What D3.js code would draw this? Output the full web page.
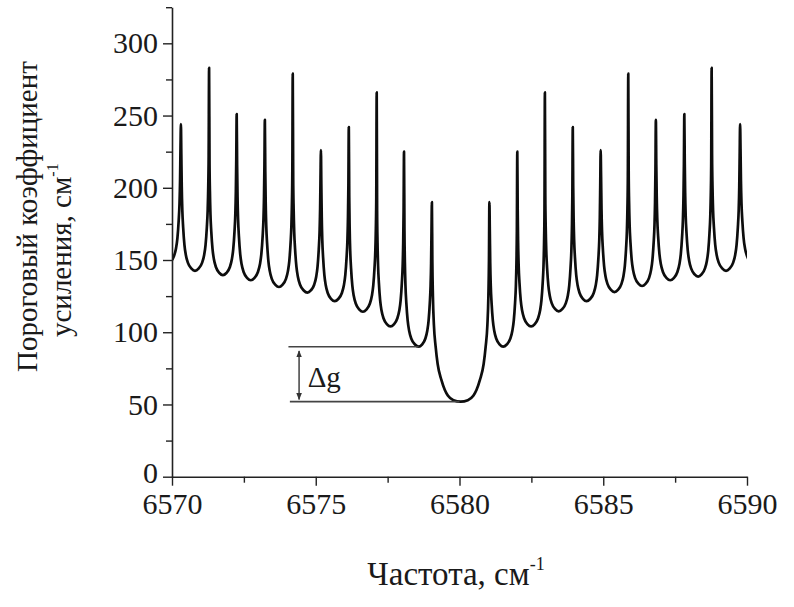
<!DOCTYPE html>
<html><head><meta charset="utf-8">
<script src="https://cdn.jsdelivr.net/npm/d3@7"></script>
<style>
html,body{margin:0;padding:0;background:#fff;}
svg{display:block;}
svg text{font-family:"Liberation Serif","DejaVu Serif","Times New Roman",serif !important;fill:#1a1a1a;}
</style></head><body>
<svg id="chart" width="794" height="607"></svg>
<script>
// ---- data ----
const peakFreq = [6570.31, 6571.29, 6572.25, 6573.23, 6574.20, 6575.18, 6576.15, 6577.12, 6578.07, 6579.04,
                  6581.04, 6582.01, 6582.97, 6583.94, 6584.91, 6585.87, 6586.83, 6587.82, 6588.77, 6589.76];
const peakGain = [244, 283, 251, 247, 279, 226, 242, 266, 225, 190,
                  190, 225, 266, 242, 226, 279, 247, 251, 283, 244];
const valleyFreq = [6569.82, 6570.80, 6571.77, 6572.74, 6573.72, 6574.71, 6575.66, 6576.64, 6577.60, 6578.58,
                    6580.04, 6581.52, 6582.49, 6583.45, 6584.42, 6585.39, 6586.35, 6587.33, 6588.30, 6589.27, 6590.25];
const valleyGain = [147, 142.5, 139.5, 136, 131.3, 127.4, 121.5, 114.2, 104, 90,
                    52, 90, 104, 114.5, 121.5, 127.8, 132, 136, 138.5, 142.5, 147];
// flank shape of an ordinary mode: fraction of half-spacing from the peak, rise above the valley
const flankU    = [0.75, 0.5, 0.35, 0.25, 0.16, 0.10, 0.06, 0.03];
const flankRise = [1.5, 5.5, 11, 18, 30, 42, 58, 80];
// central dip: distance from neighbouring peak (cm^-1) and gain
const dipDist = [0.015, 0.035, 0.07, 0.13, 0.2, 0.33, 0.45, 0.56, 0.75];
const dipGain = [150, 125, 105, 90, 78, 67, 60, 56, 53];
const dipIndex = 10;

const xTicksMajor = [6570, 6575, 6580, 6585, 6590];
const xTicksMinor = [6572.5, 6577.5, 6582.5, 6587.5];
const yTicksMajor = [0, 50, 100, 150, 200, 250, 300];
const yTicksMinor = [25, 75, 125, 175, 225, 275, 325];

const deltaLines = [{gain: 90, from: 6574.05, to: 6578.58}, {gain: 52, from: 6574.10, to: 6580.0}];
const deltaArrow = {freq: 6574.42, g1: 87, g2: 53.5};
const deltaLabel = {freq: 6574.72, gain: 62, text: "Δg"};

const yTitle1 = "Пороговый коэффициент";
const yTitle2 = "усиления, см";
const xTitle = "Частота, см";
const unitSup = "-1";

// ---- layout ----
const FONT = "'Liberation Serif','DejaVu Serif','Times New Roman',serif";
const svg = d3.select("#chart");
const L = 172, R = 747, T = 7.2, B = 476.7;
const x = d3.scaleLinear().domain([6570, 6590]).range([L, R]);
const y = d3.scaleLinear().domain([0, 325]).range([B, T]);

// build the curve points
const pts = [];
for (let i = 0; i < peakFreq.length; i++) {
  const p = peakFreq[i], pg = peakGain[i];
  const vl = i, vr = i + 1;
  pts.push([valleyFreq[vl], valleyGain[vl]]);
  if (vl === dipIndex) {
    for (let k = dipDist.length - 1; k >= 0; k--) pts.push([p - dipDist[k], dipGain[k]]);
  } else {
    for (let k = 0; k < flankU.length; k++)
      pts.push([p - flankU[k] * (p - valleyFreq[vl]), valleyGain[vl] + flankRise[k]]);
  }
  pts.push([p, pg]);
  if (vr === dipIndex) {
    for (let k = 0; k < dipDist.length; k++) pts.push([p + dipDist[k], dipGain[k]]);
  } else {
    for (let k = flankU.length - 1; k >= 0; k--)
      pts.push([p + flankU[k] * (valleyFreq[vr] - p), valleyGain[vr] + flankRise[k]]);
  }
}
pts.push([valleyFreq[valleyFreq.length - 1], valleyGain[valleyGain.length - 1]]);

svg.append("rect").attr("width", 794).attr("height", 607).attr("fill", "#fff");

svg.append("clipPath").attr("id", "clip").append("rect")
  .attr("x", L).attr("y", 0).attr("width", R - L).attr("height", B);

const line = d3.line().x(d => x(d[0])).y(d => y(d[1])).curve(d3.curveMonotoneX);
svg.append("path").datum(pts)
  .attr("clip-path", "url(#clip)")
  .attr("d", line)
  .attr("fill", "none").attr("stroke", "#0d0d0d").attr("stroke-width", 2.7)
  .attr("stroke-linejoin", "round");

// axes
function styleAxis(g) {
  g.attr("font-family", FONT);
  g.selectAll("path.domain").attr("stroke", "#222").attr("stroke-width", 1.6);
  g.selectAll(".tick line").attr("stroke", "#222").attr("stroke-width", 1.4);
  g.selectAll(".tick text").attr("font-size", 30).attr("font-family", FONT).attr("fill", "#1a1a1a");
}
const gxMinor = svg.append("g").attr("transform", `translate(0,${B})`)
  .call(d3.axisBottom(x).tickValues(xTicksMinor).tickSize(6).tickSizeOuter(0).tickFormat(""));
const gx = svg.append("g").attr("transform", `translate(0,${B})`)
  .call(d3.axisBottom(x).tickValues(xTicksMajor).tickSize(9).tickSizeOuter(0).tickPadding(7).tickFormat(d3.format("d")));
const gyMinor = svg.append("g").attr("transform", `translate(${L},0)`)
  .call(d3.axisLeft(y).tickValues(yTicksMinor).tickSize(6).tickSizeOuter(0).tickFormat(""));
const gy = svg.append("g").attr("transform", `translate(${L},0)`)
  .call(d3.axisLeft(y).tickValues(yTicksMajor).tickSize(9).tickSizeOuter(0).tickPadding(5).tickFormat(d3.format("d")));
[gxMinor, gx, gyMinor, gy].forEach(styleAxis);
gxMinor.select("path.domain").remove();
gyMinor.select("path.domain").remove();
// the "0" label sits just above the x labels, as in the reference
gy.selectAll(".tick text").filter(d => d === 0).attr("dy", "0.2em");

// delta g annotation
svg.selectAll("line.dl").data(deltaLines).enter().append("line")
  .attr("x1", d => x(d.from)).attr("x2", d => x(d.to))
  .attr("y1", d => y(d.gain)).attr("y2", d => y(d.gain))
  .attr("stroke", "#444").attr("stroke-width", 1.6);
const defs = svg.append("defs");
defs.append("marker").attr("id", "ah").attr("viewBox", "0 0 10 10")
  .attr("refX", 9).attr("refY", 5).attr("markerWidth", 7).attr("markerHeight", 7)
  .attr("markerUnits", "userSpaceOnUse").attr("orient", "auto-start-reverse")
  .append("path").attr("d", "M0,1 L10,5 L0,9 Z").attr("fill", "#333");
svg.append("line")
  .attr("x1", x(deltaArrow.freq)).attr("x2", x(deltaArrow.freq))
  .attr("y1", y(deltaArrow.g1)).attr("y2", y(deltaArrow.g2))
  .attr("stroke", "#333").attr("stroke-width", 1.4)
  .attr("marker-start", "url(#ah)").attr("marker-end", "url(#ah)");
svg.append("text").attr("x", x(deltaLabel.freq)).attr("y", y(deltaLabel.gain))
  .attr("font-size", 29).attr("font-family", FONT).text(deltaLabel.text);

// axis titles
const t1 = svg.append("text").attr("transform", "translate(37,216.5) rotate(-90)")
  .attr("text-anchor", "middle").attr("font-size", 29).attr("font-family", FONT).text(yTitle1);
const t2 = svg.append("text").attr("transform", "translate(71,337) rotate(-90)")
  .attr("text-anchor", "start").attr("font-size", 29).attr("font-family", FONT);
t2.append("tspan").text(yTitle2);
t2.append("tspan").attr("dy", -13).attr("font-size", 16).text(unitSup);

const tx = svg.append("text").attr("x", 456).attr("y", 585)
  .attr("text-anchor", "middle").attr("font-size", 33).attr("font-family", FONT);
tx.append("tspan").text(xTitle);
tx.append("tspan").attr("dy", -15).attr("font-size", 18).text(unitSup);
</script>
</body></html>
